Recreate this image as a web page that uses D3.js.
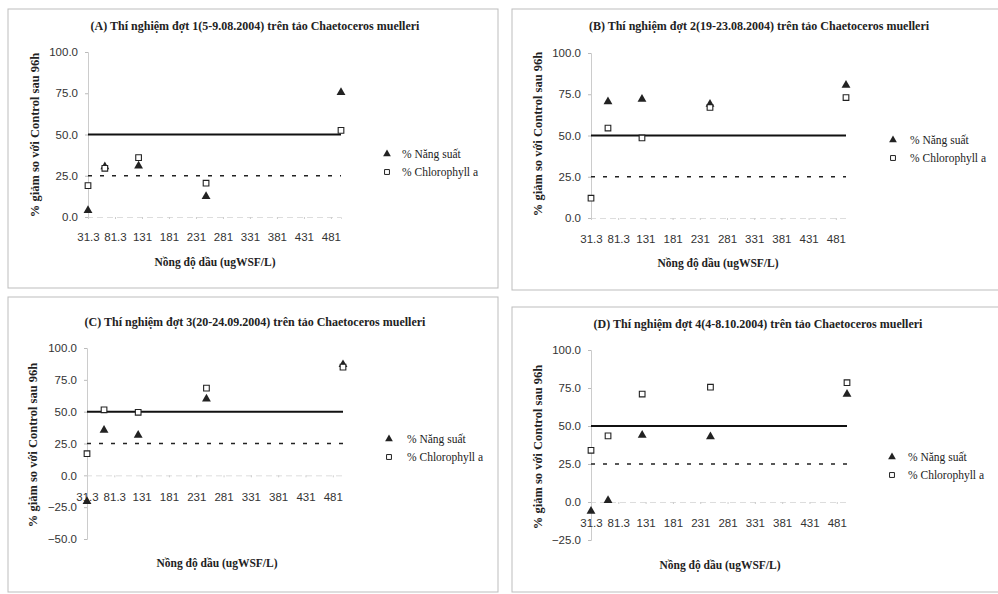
<!DOCTYPE html>
<html><head><meta charset="utf-8">
<script src="https://cdn.jsdelivr.net/npm/d3@7"></script>
<style>body{margin:0;background:#fff}svg{display:block}</style>
</head><body>
<svg id="c" width="998" height="594"></svg>
<script>
// ---------- data ----------
const concentrations = [31.3, 62.5, 125, 250, 500];
const xTickValues = [31.3, 81.3, 131.3, 181.3, 231.3, 281.3, 331.3, 381.3, 431.3, 481.3];
const xTickLabels = ["31.3", "81.3", "131", "181", "231", "281", "331", "381", "431", "481"];
const seriesNames = ["% Năng suất", "% Chlorophyll a"];
const titles = [
  "(A) Thí nghiệm đợt 1(5-9.08.2004) trên tảo Chaetoceros muelleri",
  "(B) Thí nghiệm đợt 2(19-23.08.2004) trên tảo Chaetoceros muelleri",
  "(C) Thí nghiệm đợt 3(20-24.09.2004) trên tảo Chaetoceros muelleri",
  "(D) Thí nghiệm đợt 4(4-8.10.2004) trên tảo Chaetoceros muelleri"
];
const nangSuatA = [4, 30.5, 31, 12.5, 75.5];
const chloroA   = [19, 29.5, 36, 20.5, 52.5];
const nangSuatB = [null, 70.5, 72, 69, 80.5];
const chloroB   = [12, 54.5, 48.5, 67, 73];
const nangSuatC = [-20.5, 35.5, 31.5, 60, 87];
const chloroC   = [17, 51.5, 49.5, 68.5, 85];
const nangSuatD = [-6, 1, 44, 43, 71];
const chloroD   = [34, 43.5, 71, 75.5, 78.5];
const yTicksAB = [0, 25, 50, 75, 100];
const yTicksC = [-50, -25, 0, 25, 50, 75, 100];
const yTicksD = [-25, 0, 25, 50, 75, 100];
const refSolid = 50, refDashed = 25;
const xAxisTitle = "Nồng độ dầu (ugWSF/L)";
const yAxisTitle = "% giảm so với Control sau 96h";

// ---------- layout ----------
const panels = [
  {title: titles[0], ns: nangSuatA, ch: chloroA, yt: yTicksAB,
   frame: [8, 9, 490, 279], titleXY: [255, 30], x0: 88, x1: 341, yTop: 52, yBot: 217,
   xLblY: 241, xTitleXY: [215, 266], yTitleXY: [35, 135], legXY: [387, 154], legTextX: 402},
  {title: titles[1], ns: nangSuatB, ch: chloroB, yt: yTicksAB,
   frame: [512, 9, 490, 281], titleXY: [759, 30], x0: 591, x1: 846, yTop: 53, yBot: 218,
   xLblY: 243, xTitleXY: [718, 267], yTitleXY: [538, 134], legXY: [893, 140], legTextX: 910},
  {title: titles[2], ns: nangSuatC, ch: chloroC, yt: yTicksC,
   frame: [8, 297, 490, 295], titleXY: [255, 326], x0: 87, x1: 343, yTop: 348, yBot: 539,
   xLblY: 501, xTitleXY: [217, 567], yTitleXY: [33, 445], legXY: [389, 439], legTextX: 407},
  {title: titles[3], ns: nangSuatD, ch: chloroD, yt: yTicksD,
   frame: [512, 307, 490, 285], titleXY: [758, 328], x0: 591, x1: 847, yTop: 350, yBot: 540,
   xLblY: 527, xTitleXY: [720, 569], yTitleXY: [538, 447], legXY: [892, 457], legTextX: 908}
];

const svg = d3.select("#c");
const serif = "'Liberation Serif','Times New Roman',serif";
const sans = "'Liberation Sans',Arial,sans-serif";
const tri = d3.symbol().type(d3.symbolTriangle).size(34);
const sq = d3.symbol().type(d3.symbolSquare).size(32);

panels.forEach(p => {
  const g = svg.append("g");
  g.append("rect").attr("x", p.frame[0]).attr("y", p.frame[1])
    .attr("width", p.frame[2]).attr("height", p.frame[3])
    .attr("fill", "none").attr("stroke", "#bdbdbd").attr("stroke-width", 1);

  const x = d3.scaleLinear().domain([31.3, 500]).range([p.x0, p.x1]);
  const y = d3.scaleLinear().domain([d3.min(p.yt), d3.max(p.yt)]).range([p.yBot, p.yTop]);

  g.append("text").attr("x", p.titleXY[0]).attr("y", p.titleXY[1])
    .attr("text-anchor", "middle").attr("font-family", serif).attr("font-weight", "bold")
    .attr("font-size", 12).attr("fill", "#222").text(p.title);

  // y axis
  const ya = g.append("g").attr("transform", `translate(${p.x0},0)`)
    .call(d3.axisLeft(y).tickValues(p.yt).tickSize(3).tickPadding(7).tickFormat(d3.format(".1f")));
  ya.select(".domain").attr("stroke", "#ccc");
  ya.selectAll(".tick line").attr("stroke", "#bbb");
  ya.selectAll("text").attr("font-family", sans).attr("font-size", 11.5).attr("fill", "#333");

  // x axis at y=0
  const xa = g.append("g").attr("transform", `translate(0,${y(0)})`)
    .call(d3.axisBottom(x).tickValues(xTickValues).tickSize(2)
      .tickFormat((d, i) => xTickLabels[i]));
  xa.select(".domain").attr("stroke", "#ddd").attr("stroke-dasharray", "6,4");
  xa.selectAll(".tick line").attr("stroke", "#ccc");
  xa.selectAll("text").attr("font-family", sans).attr("font-size", 11.5).attr("fill", "#333")
    .attr("y", null).attr("dy", null)
    .attr("transform", `translate(0,${p.xLblY - y(0)})`);

  // reference lines
  g.append("line").attr("x1", x(31.3)).attr("x2", x(500))
    .attr("y1", y(refSolid)).attr("y2", y(refSolid))
    .attr("stroke", "#111").attr("stroke-width", 2);
  g.append("line").attr("x1", x(31.3)).attr("x2", x(500))
    .attr("y1", y(refDashed)).attr("y2", y(refDashed))
    .attr("stroke", "#222").attr("stroke-width", 1.3).attr("stroke-dasharray", "4,8");

  // points: triangles first, squares (white fill) on top
  concentrations.forEach((c, i) => {
    if (p.ns[i] != null)
      g.append("path").attr("d", tri).attr("transform", `translate(${x(c)},${y(p.ns[i])})`)
        .attr("fill", "#222");
  });
  concentrations.forEach((c, i) => {
    if (p.ch[i] != null)
      g.append("path").attr("d", sq).attr("transform", `translate(${x(c)},${y(p.ch[i])})`)
        .attr("fill", "#fff").attr("stroke", "#222").attr("stroke-width", 1.1);
  });

  // axis titles
  g.append("text").attr("x", p.xTitleXY[0]).attr("y", p.xTitleXY[1])
    .attr("text-anchor", "middle").attr("font-family", serif).attr("font-weight", "bold")
    .attr("font-size", 11.5).attr("fill", "#222").text(xAxisTitle);
  g.append("text").attr("transform", `translate(${p.yTitleXY[0]},${p.yTitleXY[1]}) rotate(-90)`)
    .attr("text-anchor", "middle").attr("dy", "0.35em").attr("font-family", serif).attr("font-weight", "bold")
    .attr("font-size", 12.5).attr("fill", "#222").text(yAxisTitle);

  // legend
  const lg = g.append("g").attr("transform", `translate(${p.legXY[0]},${p.legXY[1]})`);
  lg.append("path").attr("d", d3.symbol().type(d3.symbolTriangle).size(26)).attr("fill", "#222");
  lg.append("path").attr("d", d3.symbol().type(d3.symbolSquare).size(24))
    .attr("transform", "translate(0,18)").attr("fill", "#fff").attr("stroke", "#222");
  seriesNames.forEach((s, i) => {
    lg.append("text").attr("x", p.legTextX - p.legXY[0]).attr("y", i * 18).attr("dy", "0.35em")
      .attr("font-family", serif).attr("font-size", 11.5).attr("fill", "#222").text(s);
  });
});
</script>
</body></html>
